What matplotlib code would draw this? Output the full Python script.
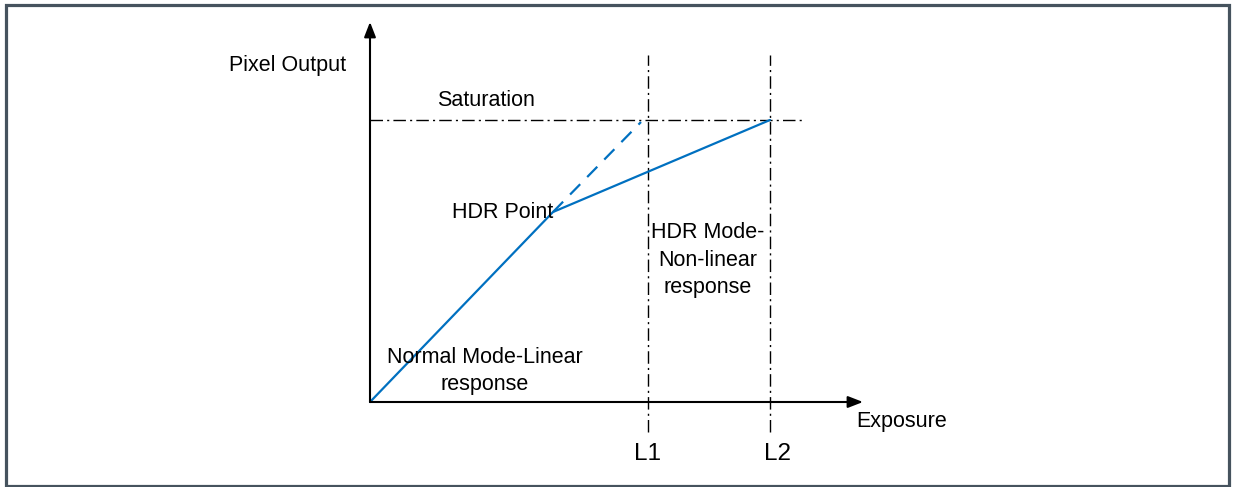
import matplotlib.pyplot as plt
from matplotlib.patches import Rectangle

plt.rcParams['font.family'] = ['Liberation Sans', 'DejaVu Sans']

# response curve (exposure, pixel output), arbitrary units
exposure = [0, 183, 400]
output = [0, 190, 282]
# linear extension beyond the HDR point
ext_exposure = [183, 271]
ext_output = [190, 280]
saturation = 282
l_positions = [278, 400]
l_labels = ['L1', 'L2']

blue = '#0070c0'
dashdot = (0, (9, 3, 1.5, 3))

fig = plt.figure(figsize=(12.35, 4.87), dpi=100)
ax = fig.add_axes([0, 0, 1, 1])
ax.set_xlim(-370, 865)
ax.set_ylim(-85, 402)
ax.axis('off')

# axes with arrows
ax.annotate('', xy=(493, 0), xytext=(0, 0),
            arrowprops=dict(arrowstyle='-|>,head_length=0.9,head_width=0.35', color='black', lw=1.5,
                            shrinkA=0, shrinkB=0))
ax.annotate('', xy=(0, 380), xytext=(0, 0),
            arrowprops=dict(arrowstyle='-|>,head_length=0.9,head_width=0.35', color='black', lw=1.5,
                            shrinkA=0, shrinkB=0))

# saturation level and exposure limits
ax.plot([0, 432], [saturation, saturation], color='black', lw=1, linestyle=dashdot)
for xp in l_positions:
    ax.plot([xp, xp], [-30, 347], color='black', lw=1, linestyle=dashdot)

# response
ax.plot(exposure, output, color=blue, lw=1.6, solid_capstyle='round')
ax.plot(ext_exposure, ext_output, color=blue, lw=1.6, linestyle=(0, (6.5, 4.5)))

fs = 15.5
ax.text(-82, 337, 'Pixel Output', ha='center', va='center', fontsize=fs)
ax.text(116, 301, 'Saturation', ha='center', va='center', fontsize=fs)
ax.text(183, 189, 'HDR Point', ha='right', va='center', fontsize=fs)
ax.text(338, 142, 'HDR Mode-\nNon-linear\nresponse', ha='center', va='center',
        fontsize=fs, linespacing=1.38)
ax.text(115, 31, 'Normal Mode-Linear\nresponse', ha='center', va='center',
        fontsize=fs, linespacing=1.38)
ax.text(486, -19, 'Exposure', ha='left', va='center', fontsize=fs)
for xp, lab, dx in zip(l_positions, l_labels, [0, 7]):
    ax.text(xp + dx, -52, lab, ha='center', va='center', fontsize=17.5)

# outer frame
fig.patches.append(Rectangle((5.5 / 1235, 1.5 / 487), 1223.5 / 1235, 481 / 487,
                             transform=fig.transFigure, fill=False,
                             edgecolor='#46535e', lw=2.3))

fig.savefig('out.png', dpi=100)
